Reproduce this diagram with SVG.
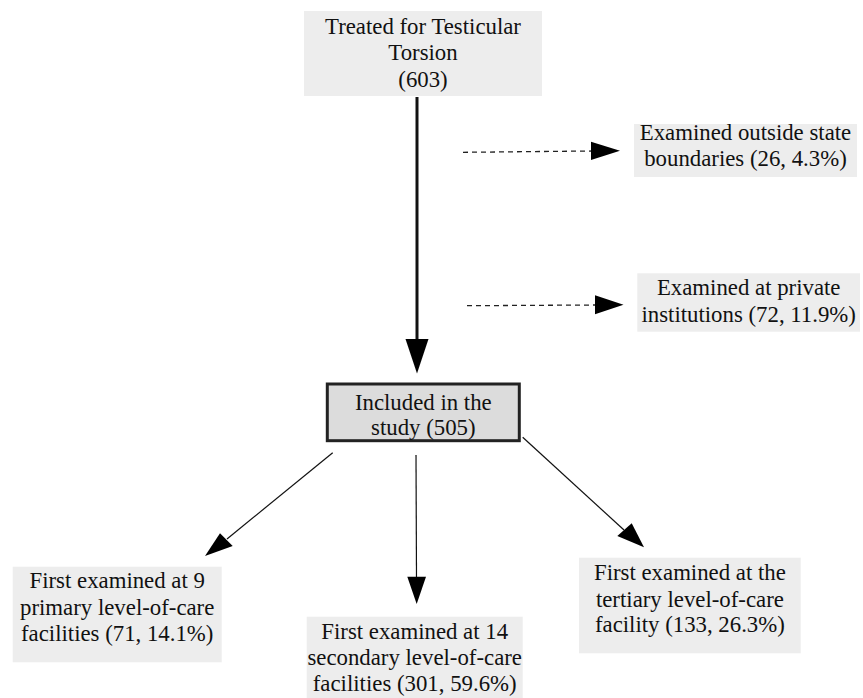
<svg xmlns="http://www.w3.org/2000/svg" width="863" height="698" viewBox="0 0 863 698">
<style>
  .box { fill: #ededed; stroke: none; }
  .inc { fill: #dcdcdc; stroke: #222; stroke-width: 3; }
  text { font-family: "Liberation Serif", "Times New Roman", serif; font-size: 22.8px; fill: #111; text-anchor: middle; }
  .solid { stroke: #111; fill: none; stroke-width: 1.2; }
  .thick { stroke: #111; fill: none; stroke-width: 3; }
  .dash { stroke: #222; fill: none; stroke-width: 1.3; stroke-dasharray: 5 4; }
  .head { fill: #000; stroke: none; }
</style>
<rect width="863" height="698" fill="#ffffff"/>
<g id="edges">
  <line class="thick" x1="417" y1="97" x2="417" y2="340"/>
  <polygon class="head" points="405.5,339 428.5,339 417,373.5"/>
  <line class="dash" x1="463" y1="152.3" x2="592" y2="151"/>
  <polygon class="head" points="591,141.7 591,160 620,150.7"/>
  <line class="dash" x1="467" y1="305.7" x2="596" y2="305"/>
  <polygon class="head" points="595,295.2 595,314.2 623.5,304.7"/>
  <line class="solid" x1="332.7" y1="452.7" x2="227" y2="539"/>
  <polygon class="head" points="220,533.3 232.7,546 205,556"/>
  <line class="solid" x1="416" y1="455" x2="416.5" y2="578"/>
  <polygon class="head" points="407.3,576.7 426,576.7 416.7,604"/>
  <line class="solid" x1="522.7" y1="437.3" x2="624" y2="530"/>
  <polygon class="head" points="617.3,536 631.7,523.3 644,547.3"/>
</g>
<g id="n_treated">
  <rect class="box" x="304" y="11" width="238" height="85"/>
  <text x="423" y="33.6">Treated for Testicular</text>
  <text x="423" y="60">Torsion</text>
  <text x="423" y="86.5">(603)</text>
</g>
<g id="n_outside">
  <rect class="box" x="634" y="124" width="223" height="53"/>
  <text x="745.5" y="139.6">Examined outside state</text>
  <text x="745.5" y="166">boundaries (26, 4.3%)</text>
</g>
<g id="n_private">
  <rect class="box" x="637.3" y="273.3" width="222.7" height="58.4"/>
  <text x="748.7" y="295">Examined at private</text>
  <text x="748.7" y="321.7">institutions (72, 11.9%)</text>
</g>
<g id="n_included">
  <rect class="inc" x="327.3" y="384" width="192" height="56.7"/>
  <text x="423.3" y="409.5">Included in the</text>
  <text x="423.3" y="435">study (505)</text>
</g>
<g id="n_primary">
  <rect class="box" x="12.7" y="566.7" width="209" height="95.6"/>
  <text x="117.2" y="587.7">First examined at 9</text>
  <text x="117.2" y="614.5">primary level-of-care</text>
  <text x="117.2" y="641">facilities (71, 14.1%)</text>
</g>
<g id="n_secondary">
  <rect class="box" x="306.7" y="616.7" width="216" height="95.6"/>
  <text x="414.7" y="639.3">First examined at 14</text>
  <text x="414.7" y="665">secondary level-of-care</text>
  <text x="414.7" y="690.7">facilities (301, 59.6%)</text>
</g>
<g id="n_tertiary">
  <rect class="box" x="579" y="557.7" width="221.7" height="95.6"/>
  <text x="689.9" y="580">First examined at the</text>
  <text x="689.9" y="606.5">tertiary level-of-care</text>
  <text x="689.9" y="631.7">facility (133, 26.3%)</text>
</g>
</svg>
